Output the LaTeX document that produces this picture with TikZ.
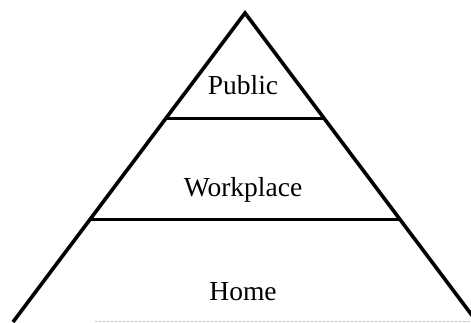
\documentclass[tikz,border=0pt]{standalone}
\usepackage{fontspec}
\setmainfont{Liberation Serif}
\usetikzlibrary{calc}

\tikzset{
  edge/.style={black, line width=3.6pt, line join=miter},
  level/.style={black, line width=3pt},
  tier/.style={font=\fontsize{27.5}{33}\selectfont, anchor=base}
}

\begin{document}
\begin{tikzpicture}[x=1pt,y=1pt]

\useasboundingbox (0,0) rectangle (471,322);
\clip (0,0) rectangle (471,322);

%triangle
\coordinate (apex) at (245,309); % top
\coordinate (BL) at (13,0);      % bottom-left, on the page edge
\coordinate (BR) at (477,0);     % bottom-right, just outside

\draw[edge] (BL) -- (apex) -- (BR);

%levels, at one and two thirds of the height
\coordinate (L1) at ($(BL)!0.333!(apex)$);
\coordinate (R1) at ($(BR)!0.333!(apex)$);
\coordinate (L2) at ($(BL)!0.660!(apex)$);
\coordinate (R2) at ($(BR)!0.660!(apex)$);

\draw[level] (L1) -- (R1);
\draw[level] (L2) -- (R2);

% faint scan line along the bottom
\coordinate (G1) at (95,1);
\coordinate (G2) at (471,1);
\draw[gray!45, line width=1pt, dash pattern=on 3pt off 1pt] (G1) -- (G2);

%labels
\node[tier] (public) at (243,228) {Public};
\node[tier] (workplace) at (243,126) {Workplace};
\node[tier] (home) at (243,22) {Home};
\end{tikzpicture}
\end{document}
